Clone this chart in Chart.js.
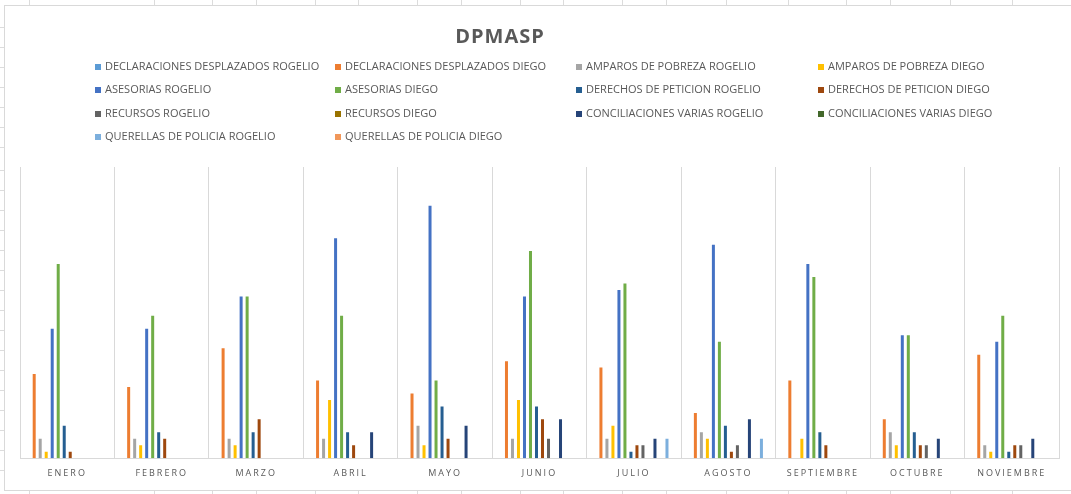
<!DOCTYPE html>
<html>
<head>
<meta charset="utf-8">
<script src="https://cdn.jsdelivr.net/npm/chart.js@4/dist/chart.umd.min.js"></script>
<style>
  body { margin: 0; width: 1071px; height: 494px; overflow: hidden; background: #fff; position: relative; }
  .cell { position: absolute; background: #dcdcdc; }
  #frame { position: absolute; left: 4px; top: 5px; width: 1100px; height: 484px; border: 1px solid #d9d9d9; background: #fff; }
  #chart { position: absolute; left: 0; top: 0; }
</style>
</head>
<body>
<div id="frame"><canvas id="chart" width="1066" height="484"></canvas></div>
<script>
// spreadsheet cells around the chart
const sheetCols = [29, 154, 212, 256, 315, 358, 417, 461, 520, 563, 622, 666, 726, 788, 846, 890, 950, 1012];
const sheetRows = [27, 47, 67, 87, 107, 127, 147, 170, 190, 210, 230, 250, 270, 290, 310, 330, 350, 370, 390, 410, 430, 450, 470];
sheetCols.forEach(x => {
  [[0, 5], [491, 3]].forEach(([top, h]) => {
    const d = document.createElement('div');
    d.className = 'cell';
    d.style.cssText = `left:${x}px;top:${top}px;width:1px;height:${h}px`;
    document.body.appendChild(d);
  });
});
sheetRows.forEach(y => {
  const d = document.createElement('div');
  d.className = 'cell';
  d.style.cssText = `left:0;top:${y}px;width:4px;height:1px`;
  document.body.appendChild(d);
});

const months = ['ENERO', 'FEBRERO', 'MARZO', 'ABRIL', 'MAYO', 'JUNIO', 'JULIO', 'AGOSTO', 'SEPTIEMBRE', 'OCTUBRE', 'NOVIEMBRE'];

const declaracionesRogelio = [0, 0, 0, 0, 0, 0, 0, 0, 0, 0, 0];
const declaracionesDiego = [13, 11, 17, 12, 10, 15, 14, 7, 12, 6, 16];
const amparosRogelio = [3, 3, 3, 3, 5, 3, 3, 4, 0, 4, 2];
const amparosDiego = [1, 2, 2, 9, 2, 9, 5, 3, 3, 2, 1];
const asesoriasRogelio = [20, 20, 25, 34, 39, 25, 26, 33, 30, 19, 18];
const asesoriasDiego = [30, 22, 25, 22, 12, 32, 27, 18, 28, 19, 22];
const derechosRogelio = [5, 4, 4, 4, 8, 8, 1, 5, 4, 4, 1];
const derechosDiego = [1, 3, 6, 2, 3, 6, 2, 1, 2, 2, 2];
const recursosRogelio = [0, 0, 0, 0, 0, 3, 2, 2, 0, 2, 2];
const recursosDiego = [0, 0, 0, 0, 0, 0, 0, 0, 0, 0, 0];
const conciliacionesRogelio = [0, 0, 0, 4, 5, 6, 3, 6, 0, 3, 3];
const conciliacionesDiego = [0, 0, 0, 0, 0, 0, 0, 0, 0, 0, 0];
const querellasRogelio = [0, 0, 0, 0, 0, 0, 3, 3, 0, 0, 0];
const querellasDiego = [0, 0, 0, 0, 0, 0, 0, 0, 0, 0, 0];

const series = [
  ['DECLARACIONES DESPLAZADOS ROGELIO', declaracionesRogelio, '#5b9bd5'],
  ['DECLARACIONES DESPLAZADOS DIEGO', declaracionesDiego, '#ed7d31'],
  ['AMPAROS DE POBREZA ROGELIO', amparosRogelio, '#a5a5a5'],
  ['AMPAROS DE POBREZA DIEGO', amparosDiego, '#ffc000'],
  ['ASESORIAS ROGELIO', asesoriasRogelio, '#4472c4'],
  ['ASESORIAS DIEGO', asesoriasDiego, '#70ad47'],
  ['DERECHOS DE PETICION ROGELIO', derechosRogelio, '#255e91'],
  ['DERECHOS DE PETICION DIEGO', derechosDiego, '#9e480e'],
  ['RECURSOS ROGELIO', recursosRogelio, '#636363'],
  ['RECURSOS DIEGO', recursosDiego, '#997300'],
  ['CONCILIACIONES VARIAS ROGELIO', conciliacionesRogelio, '#264478'],
  ['CONCILIACIONES VARIAS DIEGO', conciliacionesDiego, '#43682b'],
  ['QUERELLAS DE POLICIA ROGELIO', querellasRogelio, '#7cafdd'],
  ['QUERELLAS DE POLICIA DIEGO', querellasDiego, '#f1975a']
];

// legend grid + title drawn like the excel chart
const legendCols = [90, 330, 571, 813];
const legendRows = [61, 84, 108, 131];

const excelDecor = {
  id: 'excelDecor',
  beforeDraw(chart) {
    chart.ctx.letterSpacing = '2px';
  },
  afterDraw(chart) {
    const ctx = chart.ctx;
    ctx.save();
    ctx.letterSpacing = '1px';
    ctx.fillStyle = '#595959';
    ctx.font = 'bold 20px "Open Sans"';
    ctx.textAlign = 'center';
    ctx.textBaseline = 'middle';
    ctx.fillText('DPMASP', 495, 31);

    ctx.letterSpacing = '0px';
    ctx.font = '11px "Open Sans"';
    ctx.textAlign = 'left';
    chart.data.datasets.forEach((ds, i) => {
      const x = legendCols[i % 4];
      const y = legendRows[Math.floor(i / 4)];
      ctx.fillStyle = ds.backgroundColor;
      ctx.fillRect(x, y - 3, 6, 6);
      ctx.fillStyle = '#595959';
      ctx.fillText(ds.label, x + 10, y);
    });
    ctx.restore();
  }
};

new Chart(document.getElementById('chart'), {
  type: 'bar',
  data: {
    labels: months,
    datasets: series.map(([label, data, color]) => ({
      label: label,
      data: data,
      backgroundColor: color,
      borderWidth: 0
    }))
  },
  options: {
    responsive: false,
    animation: false,
    categoryPercentage: 0.89,
    barPercentage: 0.5,
    layout: {
      padding: { left: 15, right: 12, top: 161, bottom: 1 }
    },
    plugins: {
      legend: { display: false },
      title: { display: false },
      tooltip: { enabled: false }
    },
    scales: {
      x: {
        grid: { color: '#d9d9d9', drawTicks: false, offset: true },
        border: { color: '#d9d9d9' },
        ticks: {
          color: '#595959',
          font: { family: 'Open Sans', size: 9 },
          padding: 10,
          maxRotation: 0
        }
      },
      y: {
        display: false,
        min: 0,
        max: 45
      }
    }
  },
  plugins: [excelDecor]
});
</script>
</body>
</html>
